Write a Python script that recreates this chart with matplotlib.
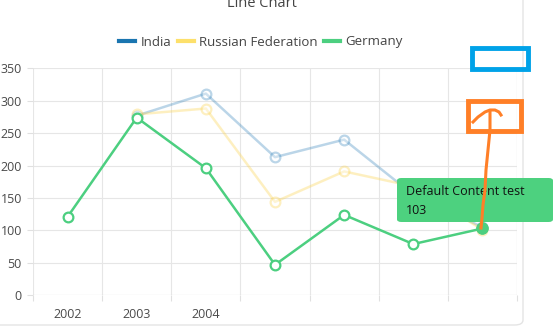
import numpy as np
import matplotlib.pyplot as plt
from matplotlib.patches import FancyBboxPatch, Rectangle
from matplotlib.lines import Line2D

plt.rcParams['font.family'] = ['Open Sans', 'DejaVu Sans']

years = ['2002', '2003', '2004', '', '', '', '']
india = [np.nan, 277, 311, 213, 240, 155, 105]
russia = [np.nan, 279, 288, 144, 191, 168, 101]
germany = [121, 274, 196, 47, 124, 79, 103]

W, H = 554, 331
fig = plt.figure(figsize=(W / 100, H / 100), dpi=100)


def fx(px):
    return px / W


def fy(py):
    return 1 - py / H


# card
card = FancyBboxPatch((fx(-10), fy(325)), fx(533), fy(-20) - fy(325),
                      boxstyle='round,pad=0,rounding_size=0.015',
                      transform=fig.transFigure, facecolor='white',
                      edgecolor='#e4e4e4', linewidth=1, zorder=0)
fig.add_artist(card)

ax = fig.add_axes([fx(33), fy(295.3), fx(517) - fx(33), fy(68.3) - fy(295.3)])
ax.set_facecolor('none')
x = np.arange(len(years)) + 0.5

ax.plot(x, india, color='#1f77b4', alpha=0.3, lw=1.8, marker='o', ms=7,
        mfc='white', mew=1.6, zorder=3)
ax.plot(x, russia, color='#fcd34d', alpha=0.35, lw=1.8, marker='o', ms=7,
        mfc='white', mew=1.6, zorder=3)
ax.plot(x, germany, color='#4ccf80', lw=1.8, marker='o', ms=7,
        mfc='white', mew=1.6, zorder=4)
ax.plot(x[-1], germany[-1], 'o', color='#4ccf80', ms=8, zorder=5)

ax.set_xlim(0, len(years))
ax.set_ylim(0, 350)
ax.set_yticks(range(0, 351, 50))
ax.set_xticks(range(len(years) + 1))
ax.set_xticklabels([])
ax.set_xticks(x, minor=True)
ax.set_xticklabels(years, minor=True)
ax.tick_params(axis='x', which='minor', length=0, pad=9)
ax.tick_params(axis='x', which='major', length=4, color='#e0e0e0')
ax.tick_params(axis='y', length=4, color='#e0e0e0', pad=4)
ax.tick_params(which='both', labelsize=9, labelcolor='#4a4a4a')
ax.grid(True, color='#e6e6e6', lw=0.8)
for s in ax.spines.values():
    s.set_visible(False)
ax.axhline(0, color='#e0e0e0', lw=0.8)
ax.axvline(len(years), color='#e6e6e6', lw=0.8)

fig.text(fx(262), fy(7), 'Line Chart', ha='center', va='baseline',
         fontsize=10.5, color='#444444')

handles = [Line2D([], [], color=c, lw=3) for c in ['#1a75b0', '#fde06b', '#4ccf80']]
fig.legend(handles, ['India', 'Russian Federation', 'Germany'], ncol=3,
           loc='center', bbox_to_anchor=(fx(261), fy(42)), frameon=False,
           fontsize=9.5, handlelength=1.2, handletextpad=0.4,
           columnspacing=0.5, labelcolor='#444444')

# tooltip
tip = FancyBboxPatch((fx(397), fy(222)), fx(553) - fx(397), fy(178) - fy(222),
                     boxstyle='round,pad=0,rounding_size=0.008',
                     transform=fig.transFigure, facecolor='#4dd17f',
                     edgecolor='none', zorder=10)
fig.add_artist(tip)
fig.text(fx(406), fy(195), 'Default Content test', fontsize=9, color='#111111',
         va='baseline', zorder=11)
fig.text(fx(406), fy(214), '103', fontsize=9, color='#111111',
         va='baseline', zorder=11)

# sketch marks
fig.add_artist(Rectangle((fx(471.5), fy(68.5)), fx(528) - fx(471.5), fy(48) - fy(68.5),
                         transform=fig.transFigure, fill=False,
                         edgecolor='#00a2e8', lw=3.5, zorder=12))
fig.add_artist(Rectangle((fx(467.5), fy(130.5)), fx(520.5) - fx(467.5), fy(100.5) - fy(130.5),
                         transform=fig.transFigure, fill=False,
                         edgecolor='#ff7f27', lw=3.5, zorder=12))
sq_x = [473, 478, 485, 490, 495, 499, 501]
sq_y = [122, 117, 112, 110, 110, 112, 115]
fig.add_artist(Line2D([fx(v) for v in sq_x], [fy(v) for v in sq_y],
                      transform=fig.transFigure, color='#ff7f27', lw=2.2, zorder=12))
ln_x = [490, 490, 488, 486, 485, 483, 482, 481]
ln_y = [111, 130, 150, 170, 190, 205, 218, 228]
fig.add_artist(Line2D([fx(v) for v in ln_x], [fy(v) for v in ln_y],
                      transform=fig.transFigure, color='#ff7f27', lw=2.2, zorder=12))

fig.savefig('out.png', dpi=100)
